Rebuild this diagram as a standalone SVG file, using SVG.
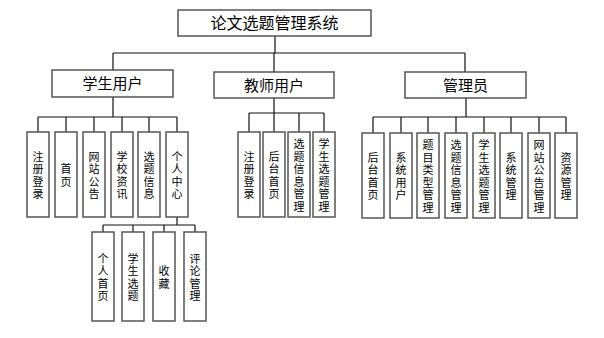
<svg xmlns="http://www.w3.org/2000/svg" width="604" height="338" viewBox="0 0 604 338">
<style>
.box{fill:#fff;stroke:#555;stroke-width:1.5}
.ln{stroke:#111;stroke-width:1.2;fill:none}
text{font-family:"Noto Sans CJK SC","Microsoft YaHei",sans-serif;fill:#000}
.h{font-size:15px;text-anchor:middle}
.r{font-size:16px;text-anchor:middle}
.v{font-size:11px;text-anchor:middle;writing-mode:vertical-rl;letter-spacing:1.5px}
</style>
<rect width="604" height="338" fill="#fff"/>
<g id="connectors" class="ln">
<path d="M275 36V53M113 53H465M113 53V70M274 53V72M465 53V72"/>
<path d="M113 97V117M38 117H177M38 117V132M66 117V132M94 117V132M122 117V132M149 117V132M177 117V132"/>
<path d="M274 98V113M249 113H324M249 113V132M274 113V132M299 113V132M324 113V132"/>
<path d="M466 98V117M373 117H566M373 117V133M401 117V133M428 117V133M456 117V133M484 117V133M511 117V133M539 117V133M566 117V133"/>
<path d="M177 217V225M103 225H195M103 225V232M133 225V232M164 225V232M195 225V232"/>
</g>
<g id="root"><rect class="box" x="178" y="10" width="193" height="26"/><text class="r" x="274.5" y="29">论文选题管理系统</text></g>
<g id="student"><rect class="box" x="52" y="70" width="121" height="27"/><text class="h" x="112.5" y="89">学生用户</text></g>
<g id="teacher"><rect class="box" x="214" y="72" width="120" height="26"/><text class="h" x="274" y="90.5">教师用户</text></g>
<g id="admin"><rect class="box" x="405" y="72" width="121" height="26"/><text class="h" x="465.5" y="90.5">管理员</text></g>

<g id="s1"><rect class="box" x="27" y="132" width="22" height="85"/><text class="v" x="38" y="176">注册登录</text></g>
<g id="s2"><rect class="box" x="55" y="132" width="22" height="85"/><text class="v" x="66" y="176">首页</text></g>
<g id="s3"><rect class="box" x="83" y="132" width="22" height="85"/><text class="v" x="94" y="176">网站公告</text></g>
<g id="s4"><rect class="box" x="111" y="132" width="22" height="85"/><text class="v" x="122" y="176">学校资讯</text></g>
<g id="s5"><rect class="box" x="138" y="132" width="22" height="85"/><text class="v" x="149" y="176">选题信息</text></g>
<g id="s6"><rect class="box" x="166" y="132" width="22" height="85"/><text class="v" x="177" y="176">个人中心</text></g>

<g id="t1"><rect class="box" x="238" y="132" width="22" height="85"/><text class="v" x="249" y="176">注册登录</text></g>
<g id="t2"><rect class="box" x="263" y="132" width="22" height="85"/><text class="v" x="274" y="176">后台首页</text></g>
<g id="t3"><rect class="box" x="288" y="132" width="22" height="85"/><text class="v" x="299" y="176">选题信息管理</text></g>
<g id="t4"><rect class="box" x="313" y="132" width="22" height="85"/><text class="v" x="324" y="176">学生选题管理</text></g>

<g id="a1"><rect class="box" x="362" y="133" width="22" height="85"/><text class="v" x="373" y="177">后台首页</text></g>
<g id="a2"><rect class="box" x="390" y="133" width="22" height="85"/><text class="v" x="401" y="177">系统用户</text></g>
<g id="a3"><rect class="box" x="417" y="133" width="22" height="85"/><text class="v" x="428" y="177">题目类型管理</text></g>
<g id="a4"><rect class="box" x="445" y="133" width="22" height="85"/><text class="v" x="456" y="177">选题信息管理</text></g>
<g id="a5"><rect class="box" x="473" y="133" width="22" height="85"/><text class="v" x="484" y="177">学生选题管理</text></g>
<g id="a6"><rect class="box" x="500" y="133" width="22" height="85"/><text class="v" x="511" y="177">系统管理</text></g>
<g id="a7"><rect class="box" x="528" y="133" width="22" height="85"/><text class="v" x="539" y="177">网站公告管理</text></g>
<g id="a8"><rect class="box" x="555" y="133" width="22" height="85"/><text class="v" x="566" y="177">资源管理</text></g>

<g id="p1"><rect class="box" x="92" y="232" width="22" height="89"/><text class="v" x="103" y="278">个人首页</text></g>
<g id="p2"><rect class="box" x="122" y="232" width="22" height="89"/><text class="v" x="133" y="278">学生选题</text></g>
<g id="p3"><rect class="box" x="153" y="232" width="22" height="89"/><text class="v" x="164" y="278">收藏</text></g>
<g id="p4"><rect class="box" x="184" y="232" width="22" height="89"/><text class="v" x="195" y="278">评论管理</text></g>
</svg>
